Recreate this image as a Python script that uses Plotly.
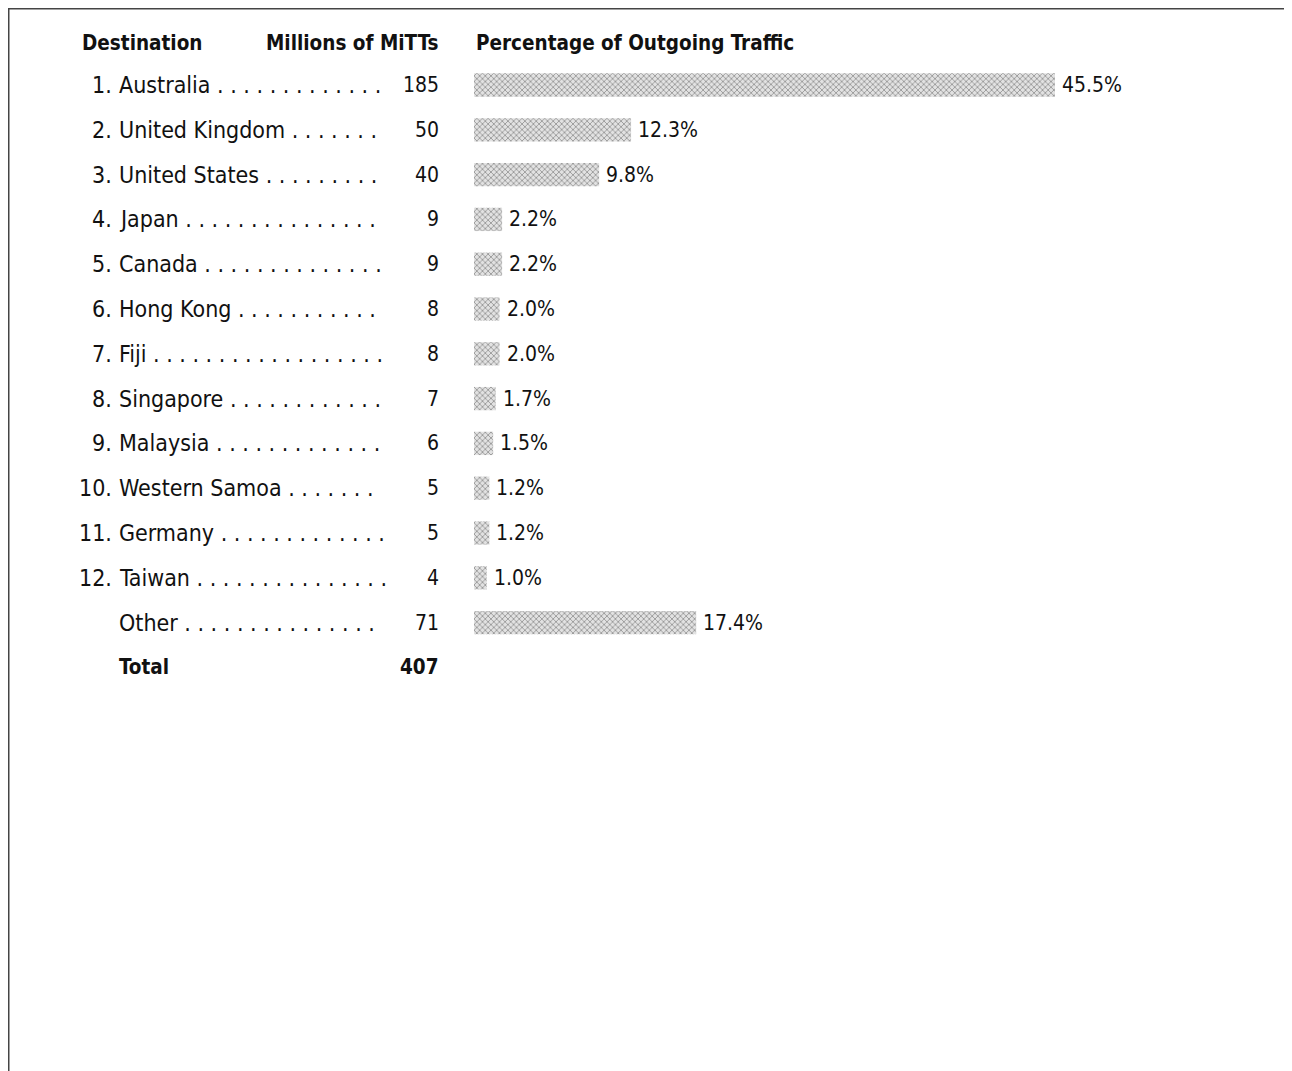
import plotly.graph_objects as go

# ---- data ----
ranks = ["1.", "2.", "3.", "4.", "5.", "6.", "7.", "8.", "9.", "10.", "11.", "12.", ""]
destinations = ["Australia", "United Kingdom", "United States", "Japan", "Canada",
                "Hong Kong", "Fiji", "Singapore", "Malaysia", "Western Samoa",
                "Germany", "Taiwan", "Other"]
leader_dots = [13, 7, 9, 15, 14, 11, 18, 12, 13, 7, 13, 15, 15]
mitts = [185, 50, 40, 9, 9, 8, 8, 7, 6, 5, 5, 4, 71]
percent = [45.5, 12.3, 9.8, 2.2, 2.2, 2.0, 2.0, 1.7, 1.5, 1.2, 1.2, 1.0, 17.4]
total_label = "Total"
total_value = 407
headers = ["Destination", "Millions of MiTTs", "Percentage of Outgoing Traffic"]

# ---- layout helpers (pixel geometry) ----
W, H = 1292, 1071
OFF = 8  # page body margin
FONT = "Liberation Sans Narrow, DejaVu Sans Condensed, Arial Narrow, Liberation Sans, sans-serif"
FS_TEXT = 23
FS_NUM = 21
FS_BOLD = 20.5
ROW0, PITCH = 85, 44.8


def px(x):
    return (x - OFF) / W


rows = list(range(len(destinations)))
bar_x0 = 474
scale = (1055 - 474) / 45.5  # px per percent

fig = go.Figure()
fig.add_trace(go.Bar(
    x=percent, y=rows, orientation="h", width=0.52,
    marker=dict(color="#bdbdbd", line=dict(width=0),
                pattern=dict(shape="x", size=4, solidity=0.4,
                             fgcolor="#4f4f4f", bgcolor="#e2e2e2")),
    hoverinfo="skip", showlegend=False,
))

f_text = dict(size=FS_TEXT)
f_num = dict(size=FS_NUM)
f_bold = dict(size=FS_BOLD)

ann = []
for i, (r, d, n, v, p) in enumerate(zip(ranks, destinations, leader_dots, mitts, percent)):
    if r:
        ann.append(dict(x=px(114), y=i, xref="paper", yref="y", text=r, font=f_text,
                        xanchor="right", yanchor="middle", showarrow=False))
    ann.append(dict(x=px(117), y=i, xref="paper", yref="y", font=f_text,
                    text=d + " " + " ".join(["."] * n),
                    xanchor="left", yanchor="middle", showarrow=False))
    ann.append(dict(x=px(441), y=i, xref="paper", yref="y", text=str(v), font=f_num,
                    xanchor="right", yanchor="middle", showarrow=False))
    ann.append(dict(x=p, y=i, xref="x", yref="y", text=f"{p:.1f}%", font=f_num,
                    xanchor="left", yanchor="middle", xshift=5, showarrow=False))

hy = -0.93
ann.append(dict(x=px(80), y=hy, xref="paper", yref="y", text="<b>%s</b>" % headers[0],
                font=f_bold, xanchor="left", yanchor="middle", showarrow=False))
ann.append(dict(x=px(441), y=hy, xref="paper", yref="y", text="<b>%s</b>" % headers[1],
                font=f_bold, xanchor="right", yanchor="middle", showarrow=False))
ann.append(dict(x=px(474), y=hy, xref="paper", yref="y", text="<b>%s</b>" % headers[2],
                font=f_bold, xanchor="left", yanchor="middle", showarrow=False))
ty = len(destinations)
ann.append(dict(x=px(117), y=ty, xref="paper", yref="y", text="<b>%s</b>" % total_label,
                font=f_bold, xanchor="left", yanchor="middle", showarrow=False))
ann.append(dict(x=px(441), y=ty, xref="paper", yref="y", text="<b>%d</b>" % total_value,
                font=f_bold, xanchor="right", yanchor="middle", showarrow=False))

y_top = (OFF - ROW0) / PITCH
y_bot = (OFF + H - ROW0) / PITCH
x_max = (OFF + W - bar_x0) / scale

fig.update_layout(
    width=W, height=H,
    margin=dict(l=0, r=0, t=0, b=0, pad=0),
    paper_bgcolor="white", plot_bgcolor="white",
    font=dict(family=FONT, size=FS_TEXT, color="#111111"),
    xaxis=dict(domain=[px(bar_x0), 1], range=[0, x_max], visible=False, fixedrange=True),
    yaxis=dict(domain=[0, 1], range=[y_bot, y_top], visible=False, fixedrange=True),
    annotations=ann,
    shapes=[
        dict(type="line", xref="paper", yref="paper", x0=0, x1=1, y0=1 - 0.75 / H, y1=1 - 0.75 / H,
             line=dict(color="#444444", width=1.5)),
        dict(type="line", xref="paper", yref="paper", x0=0.75 / W, x1=0.75 / W, y0=0, y1=1,
             line=dict(color="#444444", width=1.5)),
    ],
)

fig.write_html("out.html")
